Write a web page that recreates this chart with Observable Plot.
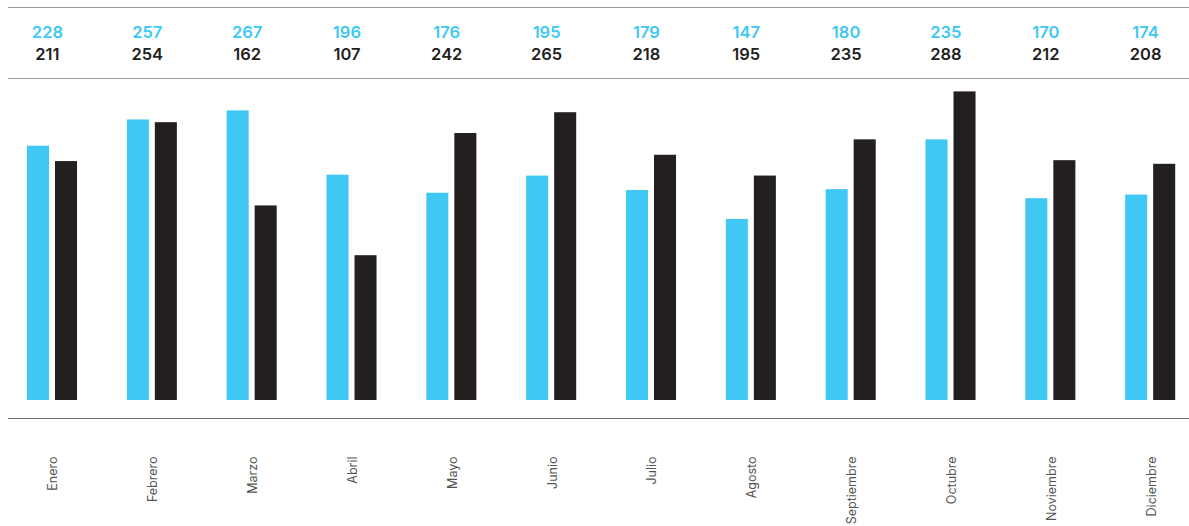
<!DOCTYPE html>
<html>
<head>
<meta charset="utf-8">
<script src="https://cdn.jsdelivr.net/npm/d3@7"></script>
<script src="https://cdn.jsdelivr.net/npm/@observablehq/plot@0.6"></script>
<style>
  html, body { margin: 0; padding: 0; background: #fff; }
  #wrap { position: relative; width: 1189px; height: 526px; overflow: hidden; font-family: Inter, "Open Sans", sans-serif; }
  .hline { position: absolute; left: 8px; right: 0; height: 1px; }
</style>
</head>
<body>
<div id="wrap">
  <div class="hline" style="top:7px;background:#9b9b9b"></div>
  <div class="hline" style="top:78px;background:#9b9b9b"></div>
  <div class="hline" style="top:418px;background:#6e6e6e"></div>
</div>
<script>
const months = ["Enero","Febrero","Marzo","Abril","Mayo","Junio","Julio","Agosto","Septiembre","Octubre","Noviembre","Diciembre"];
const seriesA = [228, 257, 267, 196, 176, 195, 179, 147, 180, 235, 170, 174];
const seriesB = [211, 254, 162, 107, 242, 265, 218, 195, 235, 288, 212, 208];
const colorA = "#40c8f4";
const colorB = "#231f20";
const axisBase = -53; // value at the chart's baseline (axis does not start at zero)

const dataA = months.map((m, i) => ({month: m, value: seriesA[i]}));
const dataB = months.map((m, i) => ({month: m, value: seriesB[i]}));

const chart = Plot.plot({
  width: 1189,
  height: 526,
  marginTop: 0,
  marginLeft: 0,
  marginRight: 0,
  marginBottom: 126,
  style: {fontFamily: "Inter, 'Open Sans', sans-serif", background: "transparent", overflow: "visible"},
  x: {domain: months, range: [2, 1200], padding: 0, round: false, axis: null},
  y: {domain: [axisBase, 300], range: [400, 400 - 0.905 * (300 - axisBase)], axis: null},
  marks: [
    Plot.rectY(dataA, {x: "month", y1: axisBase, y2: "value", fill: colorA, insetLeft: 25, insetRight: 52.8}),
    Plot.rectY(dataB, {x: "month", y1: axisBase, y2: "value", fill: colorB, insetLeft: 53, insetRight: 24.8}),
    Plot.text(dataA, {x: "month", text: d => String(d.value), frameAnchor: "top", dy: 32, dx: -5, fill: colorA, fontSize: 16.5, fontWeight: 600, lineAnchor: "middle"}),
    Plot.text(dataB, {x: "month", text: d => String(d.value), frameAnchor: "top", dy: 54, dx: -5, fill: colorB, fontSize: 16.5, fontWeight: 600, lineAnchor: "middle"}),
    Plot.text(months, {x: d => d, text: d => d, frameAnchor: "bottom", dy: 56, dx: 1, rotate: -90, textAnchor: "end", lineAnchor: "middle", fill: "#555", fontSize: 12.5})
  ]
});
chart.style.position = "absolute";
chart.style.left = "0";
chart.style.top = "0";
document.getElementById("wrap").appendChild(chart);
</script>
</body>
</html>
